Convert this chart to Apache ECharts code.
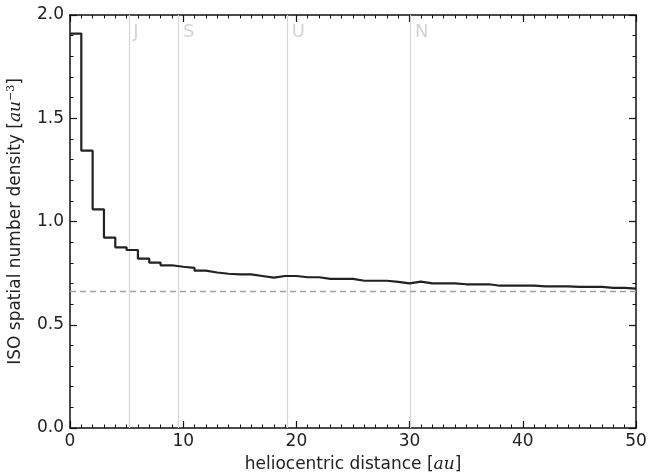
<!DOCTYPE html>
<html>
<head>
<meta charset="utf-8">
<title>ISO spatial number density</title>
<script src="https://cdn.jsdelivr.net/npm/echarts@6/dist/echarts.min.js"></script>
<style>
  html, body { margin: 0; padding: 0; background: #fff; }
  #main { width: 651px; height: 475px; }
</style>
</head>
<body>
<div id="main"></div>
<script>
// histogram bins of 1 au, from 0 to 50
var binEdges = [0, 1, 2, 3, 4, 5, 6, 7, 8, 9, 10, 11, 12, 13, 14, 15, 16, 17, 18, 19, 20,
  21, 22, 23, 24, 25, 26, 27, 28, 29, 30, 31, 32, 33, 34, 35, 36, 37, 38, 39, 40,
  41, 42, 43, 44, 45, 46, 47, 48, 49, 50]
var density = [1.91, 1.343, 1.059, 0.922, 0.875, 0.862, 0.820, 0.801, 0.788, 0.781,
  0.775, 0.762, 0.753, 0.747, 0.744, 0.744, 0.736, 0.728, 0.736, 0.736,
  0.730, 0.730, 0.722, 0.722, 0.722, 0.713, 0.713, 0.713, 0.708, 0.700,
  0.709, 0.700, 0.700, 0.700, 0.696, 0.696, 0.696, 0.689, 0.689, 0.689,
  0.689, 0.686, 0.686, 0.686, 0.683, 0.683, 0.683, 0.679, 0.679, 0.675]
var planetNames = ['J', 'S', 'U', 'N']
var planetDistances = [5.2, 9.58, 19.2, 30.07]
var backgroundLevel = 0.66
var xTicks = [0, 10, 20, 30, 40, 50]
var yTicks = [0.0, 0.5, 1.0, 1.5, 2.0]

var myChart = echarts.init(document.getElementById('main'))

// step points: each bin value starts at its left edge, last one closes at 50
var stepData = density.map(function (v, i) { return [binEdges[i], v] })
stepData.push([binEdges[binEdges.length - 1], density[density.length - 1]])

var font = 'DejaVu Sans'
var ink = '#222'

function baseAxis (extra) {
  var a = {
    axisLine: { show: true, onZero: false, lineStyle: { color: '#111', width: 1.5 } },
    axisTick: { show: true, inside: true, length: 7, lineStyle: { color: '#111', width: 1.2 } },
    splitLine: { show: false },
    minorSplitLine: { show: false }
  }
  for (var k in extra) a[k] = extra[k]
  return a
}

var option = {
  animation: false,
  backgroundColor: '#fff',
  grid: { left: 70, right: 15, top: 15, bottom: 47, outerBoundsMode: 'none' },
  xAxis: [
    baseAxis({
      type: 'value', position: 'bottom', min: xTicks[0], max: xTicks[xTicks.length - 1], interval: 10,
      minorTick: { show: true, splitNumber: 10, length: 3.5, lineStyle: { color: '#111', width: 1 } },
      axisLabel: { color: ink, fontFamily: font, fontSize: 17, margin: 5 },
      name: 'heliocentric distance [{it|au}]',
      nameLocation: 'middle',
      nameGap: 28,
      nameTextStyle: {
        color: ink, fontFamily: font, fontSize: 17,
        rich: { it: { fontStyle: 'italic', fontFamily: 'DejaVu Serif', fontSize: 17, color: ink } }
      }
    }),
    baseAxis({
      type: 'value', position: 'top', min: xTicks[0], max: xTicks[xTicks.length - 1], interval: 10,
      minorTick: { show: true, splitNumber: 10, length: 3.5, lineStyle: { color: '#111', width: 1 } },
      axisLabel: { show: false }
    })
  ],
  yAxis: [
    baseAxis({
      type: 'value', position: 'left', min: yTicks[0], max: yTicks[yTicks.length - 1], interval: 0.5,
      minorTick: { show: true, splitNumber: 5, length: 3.5, lineStyle: { color: '#111', width: 1 } },
      axisLabel: {
        color: ink, fontFamily: font, fontSize: 17, margin: 6,
        formatter: function (v) { return v.toFixed(1) }
      },
      name: 'ISO spatial number density [{it|au}{sup|−3}]',
      nameLocation: 'middle',
      nameGap: 40,
      nameTextStyle: {
        color: ink, fontFamily: font, fontSize: 17, lineHeight: 20,
        rich: {
          it: { fontStyle: 'italic', fontFamily: 'DejaVu Serif', fontSize: 17, color: ink, lineHeight: 20 },
          sup: { fontFamily: 'DejaVu Serif', fontSize: 11, color: ink, verticalAlign: 'top', lineHeight: 20 }
        }
      }
    }),
    baseAxis({
      type: 'value', position: 'right', min: yTicks[0], max: yTicks[yTicks.length - 1], interval: 0.5,
      minorTick: { show: true, splitNumber: 5, length: 3.5, lineStyle: { color: '#111', width: 1 } },
      axisLabel: { show: false }
    })
  ],
  series: [
    {
      // planet orbits + labels
      type: 'scatter',
      xAxisIndex: 0, yAxisIndex: 0,
      symbolSize: 1,
      itemStyle: { color: 'rgba(0,0,0,0)' },
      silent: true,
      z: 1,
      data: planetDistances.map(function (d, i) {
        return { value: [d, yTicks[yTicks.length - 1]], name: planetNames[i] }
      }),
      label: {
        show: true,
        position: [5, 9],
        formatter: '{b}',
        color: '#c8c8c8',
        fontFamily: font,
        fontSize: 18
      },
      markLine: {
        silent: true,
        symbol: 'none',
        animation: false,
        label: { show: false },
        lineStyle: { color: '#d6d6d6', width: 1.2, type: 'solid' },
        data: planetDistances.map(function (d) { return { xAxis: d } })
      }
    },
    {
      // isotropic background level
      type: 'line',
      xAxisIndex: 0, yAxisIndex: 0,
      data: [],
      z: 2,
      markLine: {
        silent: true,
        symbol: 'none',
        animation: false,
        label: { show: false },
        lineStyle: { color: '#a0a0a0', width: 1.3, type: [6, 4] },
        data: [{ yAxis: backgroundLevel }]
      }
    },
    {
      type: 'line',
      xAxisIndex: 0, yAxisIndex: 0,
      step: 'end',
      showSymbol: false,
      symbol: 'none',
      z: 5,
      lineStyle: { color: ink, width: 2.2 },
      data: stepData
    }
  ]
}

myChart.setOption(option)
</script>
</body>
</html>
